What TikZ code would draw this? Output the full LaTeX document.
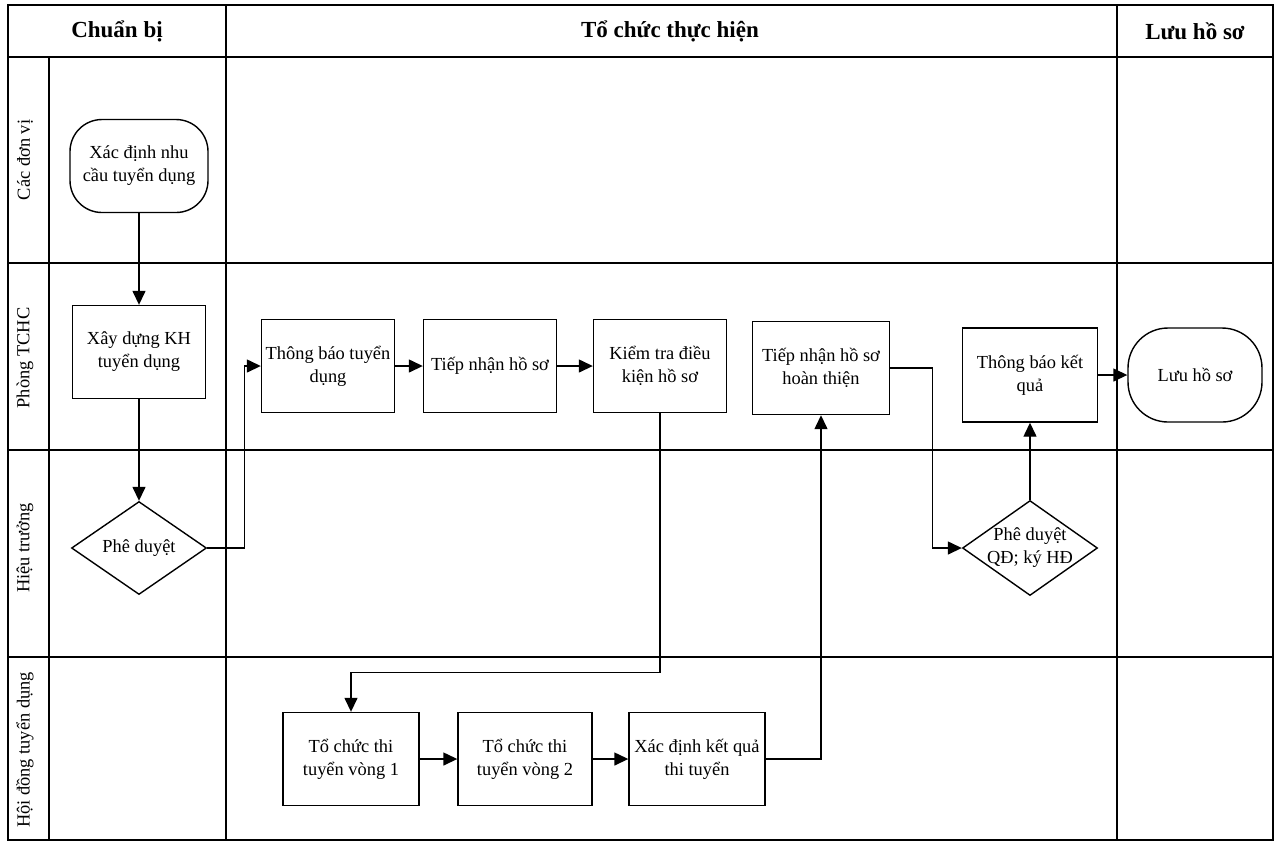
\documentclass[tikz,border=0pt]{standalone}
\usepackage{fontspec}
\setmainfont{Liberation Serif}
\usetikzlibrary{arrows.meta,shapes.geometric}
\begin{document}
\begin{tikzpicture}[x=0.5pt,y=-0.5pt,
  grid/.style={line width=0.7pt},
  box/.style={draw,line width=0.7pt,rectangle,minimum width=66.5pt,minimum height=46.5pt,align=center,inner sep=1pt,font=\fontsize{9.2}{11.5}\selectfont},
  term/.style={draw,line width=0.7pt,rectangle,rounded corners=16pt,minimum width=69pt,minimum height=46.5pt,align=center,inner sep=1pt,font=\fontsize{9.2}{11.5}\selectfont},
  dec/.style={draw,line width=0.7pt,diamond,minimum width=67.5pt,minimum height=46.5pt,inner sep=0pt,align=center,font=\fontsize{9.2}{11.5}\selectfont},
  hdr/.style={font=\bfseries\fontsize{11.5}{13}\selectfont},
  lanelbl/.style={rotate=90,font=\fontsize{9.2}{10}\selectfont},
  arr/.style={line width=0.7pt,-{Triangle[length=7pt,width=6.5pt]}}
]
\useasboundingbox (0,0) rectangle (1280,843);
% frame
\draw[grid] (8,5) rectangle (1273,840);
\draw[grid] (8,57) -- (1273,57);
\draw[grid] (226,5) -- (226,840);
\draw[grid] (1117,5) -- (1117,840);
\draw[grid] (49,57) -- (49,840);
\draw[grid] (8,263) -- (1273,263);
\draw[grid] (8,450) -- (1273,450);
\draw[grid] (8,657) -- (1273,657);
% headers
\node[hdr] (h1) at (117,31) {Chuẩn bị};
\node[hdr] (h2) at (670,31) {Tổ chức thực hiện};
\node[hdr] (h3) at (1195,31) {Lưu hồ sơ};
% lane labels
\node[lanelbl] (l1) at (25,160) {Các đơn vị};
\node[lanelbl] (l2) at (25,358) {Phòng TCHC};
\node[lanelbl] (l3) at (25,548) {Hiệu trưởng};
\node[lanelbl] (l4) at (25,750) {Hội đồng tuyển dụng};
% nodes
\node[term] (xd0) at (139,166) {Xác định nhu\\cầu tuyển dụng};
\node[box] (xdkh) at (139,352) {Xây dựng KH\\tuyển dụng};
\node[dec] (pd) at (139,548) {Phê duyệt};
\node[box] (tb) at (328,366) {Thông báo tuyển\\dụng};
\node[box] (tn) at (490,366) {Tiếp nhận hồ sơ};
\node[box] (kt) at (660,366) {Kiểm tra điều\\kiện hồ sơ};
\node[box,minimum width=68.5pt] (tnht) at (821,368) {Tiếp nhận hồ sơ\\hoàn thiện};
\node[box,minimum width=67.5pt,minimum height=47pt] (tbkq) at (1030,375) {Thông báo kết\\quả};
\node[term,minimum width=67pt,minimum height=47pt,rounded corners=20pt] (luu) at (1195,375) {Lưu hồ sơ};
\node[dec,minimum height=47.5pt,inner sep=-6pt] (pqd) at (1030,548) {Phê duyệt\\QĐ; ký HĐ};
\node[box,minimum width=68pt] (v1) at (351,759) {Tổ chức thi\\tuyển vòng 1};
\node[box,minimum width=67pt] (v2) at (525,759) {Tổ chức thi\\tuyển vòng 2};
\node[box,minimum width=68pt] (kq) at (697,759) {Xác định kết quả\\thi tuyển};
% connectors
\draw[arr] (xd0) -- (xdkh);
\draw[arr] (xdkh) -- (pd.north);
\draw[arr] (pd.east) -- ++(37,0) |- (tb.west);
\draw[arr] (tb) -- (tn);
\draw[arr] (tn) -- (kt);
\draw[arr] (kt.south) -- ++(0,259) -| (v1.north);
\draw[arr] (v1) -- (v2);
\draw[arr] (v2) -- (kq);
\draw[arr] (kq.east) -| (tnht.south);
\draw[arr] (tnht.east) -- ++(42,0) |- (pqd.west);
\draw[arr] (pqd.north) -- (tbkq.south);
\draw[arr] (tbkq) -- (luu);
\end{tikzpicture}
\end{document}
